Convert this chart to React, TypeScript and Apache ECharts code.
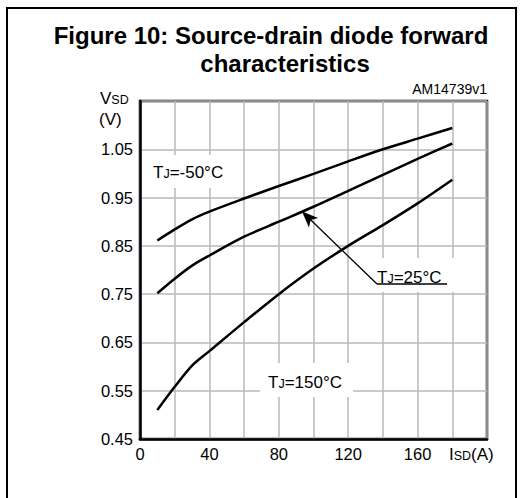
import React, { useEffect, useRef } from "react";
import * as echarts from "echarts";

// Source current ISD (A)
const currents = [10, 20, 30, 40, 60, 80, 100, 120, 140, 160, 180];
// VSD (V) for each junction temperature
const vsdMinus50 = [0.861, 0.884, 0.905, 0.921, 0.948, 0.974, 0.999, 1.025, 1.05, 1.072, 1.094];
const vsd25 = [0.752, 0.782, 0.809, 0.83, 0.869, 0.9, 0.931, 0.964, 0.997, 1.03, 1.062];
const vsd150 = [0.51, 0.558, 0.602, 0.632, 0.692, 0.75, 0.803, 0.85, 0.893, 0.938, 0.987];

const xLabelled = [0, 40, 80, 120, 160];
const yLabelled = [0.45, 0.55, 0.65, 0.75, 0.85, 0.95, 1.05];

// Arrow annotation for TJ=25°C (data coords)
const arrowStart = [136.6, 0.771];
const arrowTip = [93.4, 0.921];
const underlineEnd = [177, 0.771];

const FONT = '"Liberation Sans", Arial, Helvetica, sans-serif';

function pairs(xs: number[], ys: number[]) {
  return xs.map((x, i) => [x, ys[i]]);
}

export default function App() {
  const ref = useRef<HTMLDivElement>(null);
  useEffect(() => {
    if (!ref.current) return;
    const chart = echarts.init(ref.current, undefined, { renderer: "svg" });
    const lineStyle = { color: "#000", width: 2.5 };
    const rich = {
      b: { fontSize: 17, fontFamily: FONT, color: "#000", verticalAlign: "bottom", lineHeight: 19 },
      s: { fontSize: 12.5, fontFamily: FONT, color: "#000", verticalAlign: "bottom", lineHeight: 19 },
    };
    chart.setOption({
      animation: false,
      backgroundColor: "#fff",
      grid: {
        left: 140,
        top: 101,
        right: 44,
        bottom: 59,
        show: true,
        borderColor: "#000",
        borderWidth: 2.5,
        backgroundColor: "transparent",
      },
      xAxis: {
        type: "value",
        min: 0,
        max: 200,
        interval: 20,
        axisLine: { show: true, lineStyle: { color: "#000", width: 2.5 } },
        axisTick: { show: false },
        splitLine: { show: true, lineStyle: { color: "#b8b8b8", width: 1.5 } },
        axisLabel: {
          color: "#000",
          fontSize: 16.5,
          fontFamily: FONT,
          margin: 6,
          formatter: (v: number) => (xLabelled.includes(Math.round(v)) ? String(Math.round(v)) : ""),
        },
      },
      yAxis: {
        type: "value",
        min: 0.45,
        max: 1.15,
        interval: 0.1,
        axisLine: { show: true, lineStyle: { color: "#000", width: 2.5 } },
        axisTick: { show: false },
        splitLine: { show: true, lineStyle: { color: "#b8b8b8", width: 1.5 } },
        axisLabel: {
          color: "#000",
          fontSize: 16.5,
          fontFamily: FONT,
          margin: 7,
          formatter: (v: number) => {
            const r = Math.round(v * 100) / 100;
            return yLabelled.some((t) => Math.abs(t - r) < 1e-6) ? r.toFixed(2) : "";
          },
        },
      },
      series: [
        {
          type: "line",
          name: "TJ=-50°C",
          data: pairs(currents, vsdMinus50),
          smooth: 0.3,
          symbol: "none",
          lineStyle,
          z: 5,
        },
        {
          type: "line",
          name: "TJ=25°C",
          data: pairs(currents, vsd25),
          smooth: 0.3,
          symbol: "none",
          lineStyle,
          z: 5,
          markLine: {
            silent: true,
            animation: false,
            symbol: ["none", "none"],
            label: { show: false },
            lineStyle: { color: "#000", width: 1.3, type: "solid" },
            data: [
              [
                { coord: arrowStart, symbol: "none" },
                { coord: arrowTip, symbol: "arrow", symbolSize: [10, 16] },
              ],
              [
                { coord: arrowStart, symbol: "none", lineStyle: { width: 1.6 } },
                { coord: underlineEnd, symbol: "none" },
              ],
            ],
          },
        },
        {
          type: "line",
          name: "TJ=150°C",
          data: pairs(currents, vsd150),
          smooth: 0.3,
          symbol: "none",
          lineStyle,
          z: 5,
        },
      ],
      graphic: [
        {
          type: "rect",
          shape: { x: 7, y: 8, width: 509, height: 520 },
          style: { fill: "none", stroke: "#000", lineWidth: 2 },
          silent: true,
        },
        {
          type: "text",
          x: 271,
          y: 35,
          style: { text: "Figure 10: Source-drain diode forward", fontSize: 24, fontWeight: "bold", fontFamily: FONT, fill: "#000", align: "center", verticalAlign: "middle" },
        },
        {
          type: "text",
          x: 285,
          y: 63,
          style: { text: "characteristics", fontSize: 24, fontWeight: "bold", fontFamily: FONT, fill: "#000", align: "center", verticalAlign: "middle" },
        },
        {
          type: "text",
          x: 487,
          y: 89,
          style: { text: "AM14739v1", fontSize: 14, fontFamily: FONT, fill: "#000", align: "right", verticalAlign: "middle" },
        },
        {
          type: "text",
          x: 100,
          y: 97,
          style: { text: "{b|V}{s|SD}", rich, align: "left", verticalAlign: "middle" },
        },
        {
          type: "text",
          x: 99,
          y: 119,
          style: { text: "(V)", fontSize: 17, fontFamily: FONT, fill: "#000", align: "left", verticalAlign: "middle" },
        },
        {
          type: "text",
          x: 449,
          y: 453,
          style: { text: "{b|I}{s|SD}{b|(A)}", rich, align: "left", verticalAlign: "middle" },
        },
        // white boxes behind annotations
        { type: "rect", z: 3, shape: { x: 145, y: 155, width: 92, height: 33 }, style: { fill: "#fff" }, silent: true },
        { type: "rect", z: 3, shape: { x: 355, y: 258, width: 130, height: 34 }, style: { fill: "#fff" }, silent: true },
        { type: "rect", z: 3, shape: { x: 260, y: 363, width: 93, height: 34 }, style: { fill: "#fff" }, silent: true },
        {
          type: "text",
          z: 6,
          x: 153,
          y: 171,
          style: { text: "{b|T}{s|J}{b|=-50°C}", rich, align: "left", verticalAlign: "middle" },
        },
        {
          type: "text",
          z: 6,
          x: 377,
          y: 276,
          style: { text: "{b|T}{s|J}{b|=25°C}", rich, align: "left", verticalAlign: "middle" },
        },
        {
          type: "text",
          z: 6,
          x: 268,
          y: 381,
          style: { text: "{b|T}{s|J}{b|=150°C}", rich, align: "left", verticalAlign: "middle" },
        },
      ],
    });
    return () => chart.dispose();
  }, []);
  return (
    <div
      ref={ref}
      style={{ position: "fixed", left: 0, top: 0, width: 531, height: 498, background: "#fff" }}
    />
  );
}
